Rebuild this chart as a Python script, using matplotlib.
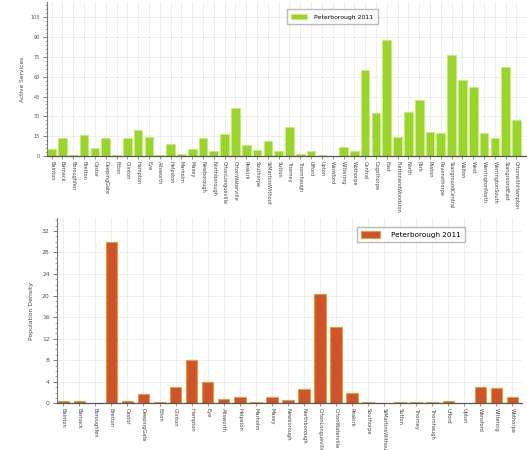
import matplotlib
matplotlib.use("Agg")
import matplotlib.pyplot as plt
from matplotlib.ticker import MultipleLocator

parishes = ["Bainton", "Barnack", "Boroughfen", "Bretton", "Castor", "DeepingGate",
            "Etton", "Glinton", "Hampton", "Eye", "Ailsworth", "Helpston", "Marholm",
            "Maxey", "Newborough", "Northborough", "OrtonLongueville", "OrtonWaterville",
            "Peakirk", "Southorpe", "StMartinsWithout", "Sutton", "Thorney", "Thornhaugh",
            "Ufford", "Upton", "Wansford", "Wittering", "Wothorpe"]
wards = ["Central", "Dogsthorpe", "East", "FlettonandWoodston", "North", "Park",
         "Paston", "Ravensthorpe", "StangroundCentral", "Walton", "West",
         "WerringtonNorth", "WerringtonSouth", "StangroundEast", "OrtonwithHampton"]
top_labels = parishes + wards
active_services = [5, 14, 0.5, 16, 6, 14, 0.5, 13.5, 19.5, 14.5, 1, 9, 1.5, 5, 14,
                   4, 17, 36, 8, 4.7, 11, 3.9, 22, 1.8, 3.9, 0.8, 0.3, 6.5, 3.9,
                   65, 32.3, 88, 14.2, 33.6, 42.6, 18.1, 17.1, 76.7, 57.9, 52.2,
                   17.1, 13.7, 67.7, 27.4]
pop_density = [0.35, 0.5, 0.1, 30.0, 0.5, 1.7, 0.25, 3.1, 8.1, 4.0, 0.8, 1.2, 0.25,
               1.2, 0.7, 2.6, 20.2, 14.2, 1.9, 0.25, 0.1, 0.2, 0.3, 0.2, 0.5, 0.05,
               3.0, 2.8, 1.1]
series_name = "Peterborough 2011"

W, H = 527, 450
fig = plt.figure(figsize=(W / 100, H / 100), dpi=100)
fig.patch.set_facecolor("white")

def style(ax, minor):
    for s in ["top", "right"]:
        ax.spines[s].set_visible(False)
    ax.spines["left"].set_color("#777777")
    ax.spines["left"].set_linewidth(0.8)
    ax.spines["bottom"].set_color("#555555")
    ax.spines["bottom"].set_linewidth(0.9)
    ax.yaxis.set_minor_locator(MultipleLocator(minor))
    ax.tick_params(axis="y", which="major", length=3, width=0.6, color="#666666",
                   labelsize=4, labelcolor="#555555", pad=2)
    ax.tick_params(axis="y", which="minor", length=1.5, width=0.5, color="#888888")
    ax.tick_params(axis="x", length=2, width=0.5, color="#666666", pad=1.5,
                   labelcolor="#444444")
    ax.grid(True, which="major", color="#ebebeb", linewidth=0.6)
    ax.set_axisbelow(True)

# Top chart
ax1 = fig.add_axes([46.7 / W, (H - 156) / H, 496.8 / W, 154 / H])
x1 = list(range(len(top_labels)))
ax1.bar(x1, active_services, width=0.8, color="#9AD62A", edgecolor="#c4ea7a",
        linewidth=0.6, label=series_name)
ax1.set_xlim(-0.46, 45.5)
ax1.set_ylim(0, 116.6)
ax1.yaxis.set_major_locator(MultipleLocator(15))
ax1.set_xticks(x1)
ax1.set_xticklabels(top_labels, rotation=-90, fontsize=3.6)
style(ax1, 3)
ax1.tick_params(axis="y", labelsize=3.6)
ax1.set_ylabel("Active Services", fontsize=4.2, color="#444444", labelpad=4)
ax1.legend(loc="upper left", bbox_to_anchor=(286.7 / W, 1 - 9.3 / H),
           bbox_transform=fig.transFigure, fontsize=4.4, frameon=True,
           fancybox=False, edgecolor="#aaaaaa", handlelength=2.6, handleheight=1.1,
           borderpad=0.7, handletextpad=1.2, borderaxespad=0)

# Bottom chart
ax2 = fig.add_axes([56.7 / W, (H - 403.3) / H, 465.4 / W, 185.3 / H])
x2 = list(range(len(parishes)))
ax2.bar(x2, pop_density, width=0.72, color="#D2522A", edgecolor="#D9A43A",
        linewidth=0.8, label=series_name)
ax2.set_xlim(-0.41, 28.6)
ax2.set_ylim(0, 34.4)
ax2.yaxis.set_major_locator(MultipleLocator(4))
ax2.set_xticks(x2)
ax2.set_xticklabels(parishes, rotation=-90, fontsize=3.7)
style(ax2, 1)
ax2.tick_params(axis="y", labelsize=4.4)
ax2.set_ylabel("Population Density", fontsize=4.4, color="#444444", labelpad=6)
ax2.legend(loc="upper left", bbox_to_anchor=(356.7 / W, 1 - 226.7 / H),
           bbox_transform=fig.transFigure, fontsize=5.2, frameon=True,
           fancybox=False, edgecolor="#aaaaaa", handlelength=2.6, handleheight=1.1,
           borderpad=0.6, handletextpad=1.5, borderaxespad=0)

fig.savefig("out.png", dpi=100)
